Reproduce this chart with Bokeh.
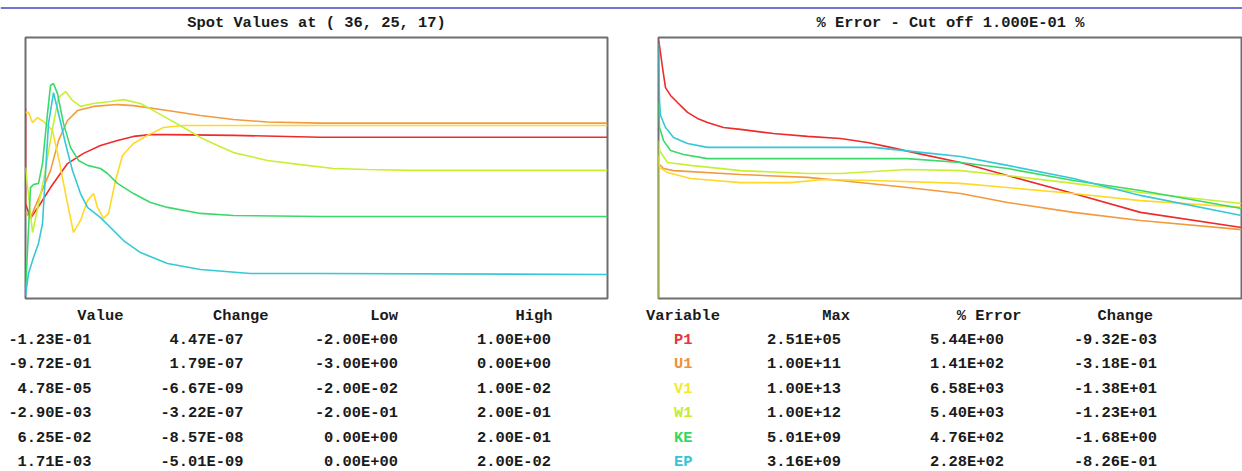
from bokeh.plotting import figure
from bokeh.layouts import column, row
from bokeh.models import Range1d, Span
from bokeh.core.properties import value
from bokeh.embed import file_html
from bokeh.resources import INLINE

# ---------------- data ----------------
variables = ["P1", "U1", "V1", "W1", "KE", "EP"]
line_colors = ["#ee2a2a", "#f39a3c", "#ffd82a", "#c8f032", "#3ad96a", "#36c8d6"]
label_colors = ["#e8343c", "#f0903a", "#f2ea2a", "#c4ec2c", "#34d860", "#36c4d8"]

# Spot values panel (sweep, normalised value 0..100)
spot_x = {
    "P1": [0, 0, 5, 15, 25, 42, 58, 75, 92, 108, 125, 142, 208, 295, 582],
    "U1": [0, 5, 25, 33, 42, 52, 68, 92, 108, 142, 175, 208, 242, 295, 582],
    "V1": [0, 3, 7, 12, 18, 27, 33, 42, 48, 55, 62, 68, 72, 78, 83, 90, 97, 108, 122, 138, 158, 582],
    "W1": [0, 7, 18, 27, 33, 40, 47, 55, 68, 85, 98, 115, 128, 142, 158, 175, 192, 208, 242, 275, 308, 342, 385, 582],
    "KE": [0, 2, 5, 8, 13, 17, 22, 25, 28, 32, 38, 45, 53, 62, 75, 82, 92, 108, 125, 142, 175, 208, 295, 582],
    "EP": [0, 3, 8, 13, 17, 20, 23, 28, 33, 40, 47, 55, 62, 75, 85, 98, 115, 142, 175, 225, 295, 582],
}
spot_y = {
    "P1": [72.8, 36.4, 30.7, 36.4, 42.5, 51.7, 55.6, 58.6, 60.5, 62.1, 62.8, 62.8, 62.5, 61.8, 61.8],
    "U1": [33.0, 31.0, 49.0, 60.5, 68.2, 72.0, 73.6, 74.3, 73.9, 72.0, 70.1, 68.6, 67.6, 67.2, 67.2],
    "V1": [71.3, 71.3, 67.4, 69.3, 67.8, 64.4, 54.0, 36.4, 25.3, 29.9, 37.5, 40.2, 34.9, 30.7, 32.6,
           45.2, 54.8, 59.4, 62.5, 65.5, 66.3, 66.3],
    "W1": [50.2, 25.3, 45.2, 65.1, 77.0, 79.3, 75.9, 73.6, 74.7, 75.5, 76.2, 74.7, 72.0, 69.0, 65.5,
           61.7, 58.6, 55.9, 52.9, 51.3, 49.8, 49.4, 49.1, 49.1],
    "KE": [3.1, 18.4, 42.5, 43.7, 44.1, 51.7, 70.9, 81.6, 82.4, 78.5, 67.0, 57.9, 52.9, 51.0, 49.8,
           47.9, 44.1, 40.2, 36.8, 34.9, 32.6, 31.8, 31.4, 31.4],
    "EP": [1.1, 9.6, 15.7, 21.1, 28.7, 47.9, 67.0, 78.9, 70.9, 59.4, 49.0, 40.2, 34.9, 31.0, 27.2,
           22.2, 17.6, 13.4, 11.1, 9.6, 9.6, 9.2],
}

# % error panel (sweep, normalised log error 0..100)
err_x = {
    "P1": [0, 1, 4, 7, 12, 19, 29, 39, 49, 65, 82, 115, 149, 182, 209, 232, 259, 302, 349, 415, 482, 583],
    "U1": [0, 5, 15, 82, 149, 182, 249, 302, 349, 415, 482, 583],
    "V1": [0, 1, 9, 32, 82, 132, 165, 215, 302, 349, 415, 482, 583],
    "W1": [0, 0.5, 1, 9, 32, 82, 149, 182, 249, 302, 349, 415, 482, 583],
    "KE": [0, 1, 5, 12, 25, 49, 115, 182, 249, 302, 349, 415, 482, 583],
    "EP": [0, 1, 2, 7, 15, 29, 49, 82, 149, 215, 265, 302, 349, 415, 482, 583],
}
err_y = {
    "P1": [98.9, 96.9, 88.5, 80.8, 77.8, 75.1, 71.3, 69.0, 67.4, 65.5, 64.8, 63.2, 62.1, 61.3, 59.8,
           57.9, 55.6, 52.1, 47.1, 40.2, 33.0, 27.2],
    "U1": [51.7, 49.8, 49.0, 47.5, 46.4, 45.2, 42.5, 40.2, 36.8, 33.0, 29.9, 26.4],
    "V1": [54.8, 50.2, 48.3, 46.0, 44.4, 44.4, 45.6, 45.2, 44.1, 42.5, 40.2, 37.5, 34.9],
    "W1": [0.0, 60.5, 56.7, 52.1, 51.0, 49.0, 47.9, 47.9, 49.4, 49.0, 47.1, 44.1, 40.6, 36.4],
    "KE": [75.0, 65.5, 60.5, 56.7, 55.2, 53.6, 53.6, 53.6, 53.6, 52.1, 49.8, 45.2, 41.4, 34.5],
    "EP": [97.7, 75.9, 70.1, 65.5, 61.7, 59.4, 57.9, 57.9, 57.9, 57.9, 55.9, 54.4, 51.0, 46.0, 39.5, 31.8],
}

# tables
spot_title = "Spot Values at ( 36, 25, 17)"
err_title = "% Error - Cut off 1.000E-01 %"
spot_headers = ["Value", "Change", "Low", "High"]
spot_value = ["-1.23E-01", "-9.72E-01", "4.78E-05", "-2.90E-03", "6.25E-02", "1.71E-03"]
spot_change = ["4.47E-07", "1.79E-07", "-6.67E-09", "-3.22E-07", "-8.57E-08", "-5.01E-09"]
spot_low = ["-2.00E+00", "-3.00E+00", "-2.00E-02", "-2.00E-01", "0.00E+00", "0.00E+00"]
spot_high = ["1.00E+00", "0.00E+00", "1.00E-02", "2.00E-01", "2.00E-01", "2.00E-02"]
err_headers = ["Variable", "Max", "% Error", "Change"]
err_max = ["2.51E+05", "1.00E+11", "1.00E+13", "1.00E+12", "5.01E+09", "3.16E+09"]
err_pct = ["5.44E+00", "1.41E+02", "6.58E+03", "5.40E+03", "4.76E+02", "2.28E+02"]
err_change = ["-9.32E-03", "-3.18E-01", "-1.38E+01", "-1.23E+01", "-1.68E+00", "-8.26E-01"]

# ---------------- styling / layout ----------------
FONT = "Liberation Mono"
FS = "15.4px"
TXT = "#1a1a1a"
W = 1242


def base(w, h, xr, yr, l=0, r=0, t=0, b=0):
    p = figure(width=w, height=h, x_range=xr, y_range=yr, output_backend="svg",
               toolbar_location=None, x_axis_type=None, y_axis_type=None,
               min_border_left=l, min_border_right=r, min_border_top=t, min_border_bottom=b)
    p.xgrid.visible = False
    p.ygrid.visible = False
    p.outline_line_color = None
    p.background_fill_color = "white"
    p.border_fill_color = "white"
    return p


def txt(p, xs, ys, texts, align, colors=TXT):
    p.text(x=xs, y=ys, text=texts, text_align=align, text_baseline="middle",
           text_font=value(FONT), text_font_style="bold", text_font_size=FS,
           text_color=colors)


# top strip: blue rule + titles
top = base(W, 35, Range1d(0, W), Range1d(35, 0))
top.add_layout(Span(location=7.5, dimension="width", line_color="#7373d2", line_width=2))
txt(top, [316, 950], [22, 22], [spot_title, err_title], "center")

# chart panels
left = base(656, 265, Range1d(0, 582), Range1d(0, 100), l=25, r=49, t=2, b=2)
right = base(586, 265, Range1d(0, 583), Range1d(0, 100), l=2, r=1, t=2, b=2)
for p in (left, right):
    p.outline_line_color = "#6e6e6e"
    p.outline_line_width = 2

for v, c in zip(variables, line_colors):
    left.line(spot_x[v], spot_y[v], line_color=c, line_width=1.6)
    right.line(err_x[v], err_y[v], line_color=c, line_width=1.6)

# tables
table = base(W, 171, Range1d(0, W), Range1d(471, 300))
row_y = [339, 363.5, 388, 412.5, 437, 461.5]
head_y = [315] * 4

txt(table, [123, 268, 397.5, 552], head_y, spot_headers, "right")
for xr_, col in zip([91, 243, 397.5, 550.5], [spot_value, spot_change, spot_low, spot_high]):
    txt(table, [xr_] * 6, row_y, col, "right")

txt(table, [719.5, 849.5, 1021, 1152.5], head_y, err_headers, "right")
txt(table, [692] * 6, row_y, variables, "right", colors=label_colors)
for xr_, col in zip([840.5, 1003.5, 1156.5], [err_max, err_pct, err_change]):
    txt(table, [xr_] * 6, row_y, col, "right")

root = column(top, row(left, right), table,
              styles={"position": "absolute", "left": "0px", "top": "0px"})

open("out.html", "w").write(file_html(root, INLINE))
